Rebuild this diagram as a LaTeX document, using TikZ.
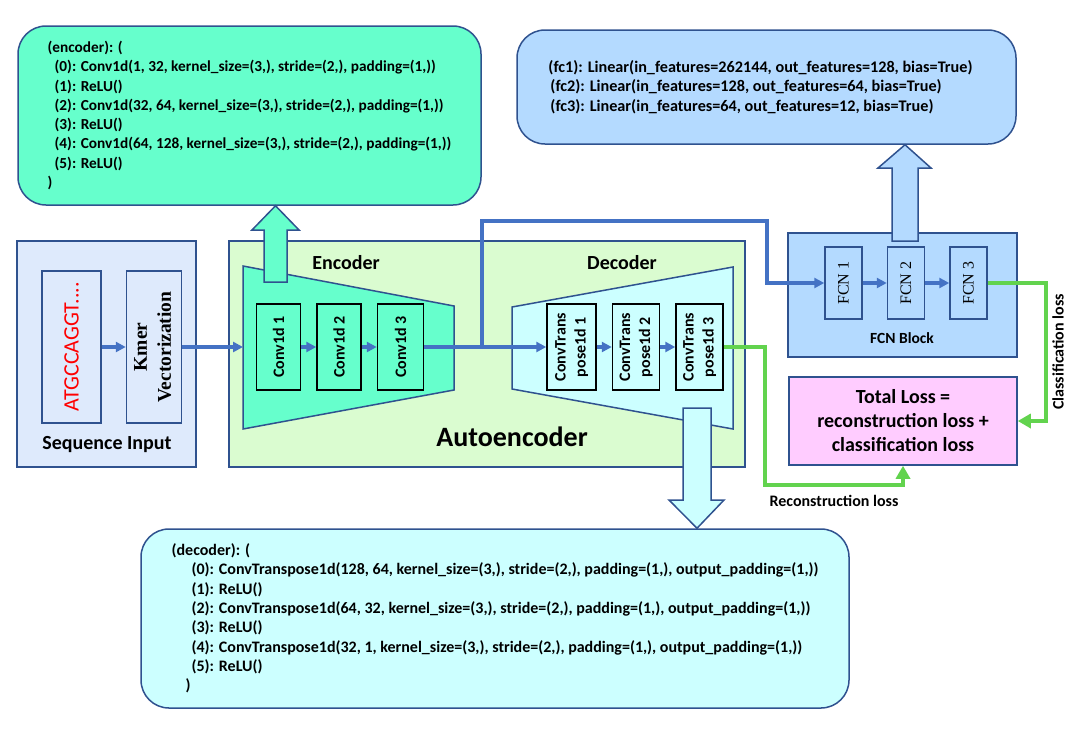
\documentclass[tikz,border=0pt]{standalone}
\usepackage{fontspec}
\setmainfont{Carlito}
\newfontfamily\timesfont{Liberation Serif}
\usetikzlibrary{positioning,arrows.meta}

\definecolor{edgeblue}{HTML}{2F528F}
\definecolor{lineblue}{HTML}{4472C4}
\definecolor{lossgreen}{HTML}{62D34E}
\definecolor{encgreen}{HTML}{66FFCC}
\definecolor{aebg}{HTML}{DAFCD0}
\definecolor{seqbg}{HTML}{DEEAFC}
\definecolor{fcnblue}{HTML}{B4DAFF}
\definecolor{deccyan}{HTML}{CCFFFF}
\definecolor{losspink}{HTML}{FFCCFF}

\begin{document}
\begin{tikzpicture}[x=1pt,y=-1pt,font=\bfseries,
  panel/.style={draw=edgeblue,line width=1.5pt,inner sep=0pt},
  codebox/.style={panel,rounded corners=28pt,align=left,font=\fontsize{16}{19.3}\selectfont\bfseries},
  layer/.style={draw=black,line width=1.5pt,inner sep=0pt,minimum height=86pt,font=\fontsize{16}{20}\selectfont\bfseries},
  fcn/.style={draw=edgeblue,line width=1.5pt,fill=fcnblue,inner sep=0pt,minimum width=37pt,minimum height=72pt,font=\fontsize{16}{20}\selectfont\timesfont},
  flow/.style={draw=lineblue,line width=3.5pt,-{Triangle[length=10pt,width=10pt]}},
  lossflow/.style={draw=lossgreen,line width=3.5pt,-{Triangle[length=13pt,width=14pt]}},
  fatarrow/.style={draw=edgeblue,line width=1.5pt},
  caption/.style={font=\fontsize{20}{24}\selectfont\bfseries},
  small/.style={font=\fontsize{16}{19}\selectfont\bfseries}]
  \useasboundingbox (0,0) rectangle (1086,734);

  % sequence input
  \node[panel,fill=seqbg,minimum width=179pt,minimum height=226pt] (seqpanel) at (106.5,354) {};
  \node[draw=edgeblue,line width=1.5pt,inner sep=0pt,minimum width=59pt,minimum height=152pt,
    text=red,font=\fontsize{22}{26}\selectfont] (dna) at (71.5,347) {\rotatebox{90}{ATGCCAGGT....}};
  \node[draw=edgeblue,line width=1.5pt,inner sep=0pt,minimum width=55pt,minimum height=152pt,
    font=\fontsize{19.5}{24}\selectfont\timesfont\bfseries,right=24pt of dna] (kmer)
    {\rotatebox{90}{\begin{tabular}{@{}c@{}}Kmer\\Vectorization\end{tabular}}};
  \node[caption] (seqlabel) at (107,445) {Sequence Input};

  % autoencoder
  \node[panel,fill=aebg,minimum width=516pt,minimum height=226pt] (aepanel) at (487,354) {};
  \draw[panel,fill=encgreen] (243,266) -- (454,306) -- (454,390) -- (243,429) -- cycle;
  \draw[panel,fill=deccyan] (512,307) -- (733,267) -- (733,429) -- (512,389) -- cycle;
  \node[caption] (enclabel) at (346,263) {Encoder};
  \node[caption] (declabel) at (622,263) {Decoder};
  \node[font=\fontsize{28}{32}\selectfont\bfseries] (aelabel) at (512,437) {Autoencoder};
  \node[layer,fill=encgreen,minimum width=44pt] (conv1) at (278.5,347) {\rotatebox{90}{Conv1d 1}};
  \node[layer,fill=encgreen,minimum width=44pt,right=15pt of conv1] (conv2) {\rotatebox{90}{Conv1d 2}};
  \node[layer,fill=encgreen,minimum width=46pt,right=15pt of conv2] (conv3) {\rotatebox{90}{Conv1d 3}};
  \node[layer,fill=deccyan,minimum width=49pt] (dec1) at (571.5,347)
    {\rotatebox{90}{\begin{tabular}{@{}c@{}}ConvTrans\\pose1d 1\end{tabular}}};
  \node[layer,fill=deccyan,minimum width=47pt,right=15pt of dec1] (dec2)
    {\rotatebox{90}{\begin{tabular}{@{}c@{}}ConvTrans\\pose1d 2\end{tabular}}};
  \node[layer,fill=deccyan,minimum width=47pt,right=15pt of dec2] (dec3)
    {\rotatebox{90}{\begin{tabular}{@{}c@{}}ConvTrans\\pose1d 3\end{tabular}}};
  \coordinate (encin) at (243,347);
  \coordinate (split) at (482,347);

  % fcn block and loss
  \node[panel,fill=fcnblue,minimum width=229pt,minimum height=124pt] (fcnpanel) at (902.5,295) {};
  \node[fcn] (fcn1) at (843.5,283) {\rotatebox{90}{FCN 1}};
  \node[fcn,right=24pt of fcn1] (fcn2) {\rotatebox{90}{FCN 2}};
  \node[fcn,right=24pt of fcn2] (fcn3) {\rotatebox{90}{FCN 3}};
  \node[font=\fontsize{15.5}{18}\selectfont\bfseries] (fcnlabel) at (902,338) {FCN Block};
  \node[panel,fill=losspink,minimum width=228pt,minimum height=88pt,align=center,
    font=\fontsize{20}{24}\selectfont\bfseries] (loss) at (903,421)
    {Total Loss =\\reconstruction loss +\\classification loss};

  % layer printouts
  \node[codebox,fill=encgreen,minimum width=463pt,minimum height=179pt,
    font=\fontsize{15.3}{19.3}\selectfont\bfseries] (enccode) at (249.5,115.5)
    {(encoder): (\\
     \hspace*{7pt}(0): Conv1d(1, 32, kernel\_size=(3,), stride=(2,), padding=(1,))\\
     \hspace*{7pt}(1): ReLU()\\
     \hspace*{7pt}(2): Conv1d(32, 64, kernel\_size=(3,), stride=(2,), padding=(1,))\\
     \hspace*{7pt}(3): ReLU()\\
     \hspace*{7pt}(4): Conv1d(64, 128, kernel\_size=(3,), stride=(2,), padding=(1,))\\
     \hspace*{7pt}(5): ReLU()\\
     )};
  \node[codebox,fill=fcnblue,minimum width=499pt,minimum height=114pt,
    font=\fontsize{16.2}{19.3}\selectfont\bfseries] (fccode) at (766.5,87)
    {(fc1): Linear(in\_features=262144, out\_features=128, bias=True)\hspace*{12pt}\\
     \hspace*{2pt}(fc2): Linear(in\_features=128, out\_features=64, bias=True)\\
     \hspace*{2pt}(fc3): Linear(in\_features=64, out\_features=12, bias=True)};
  \node[codebox,fill=deccyan,minimum width=708pt,minimum height=179pt] (deccode) at (495,618.5)
    {(decoder): (\\
     \hspace*{20pt}(0): ConvTranspose1d(128, 64, kernel\_size=(3,), stride=(2,), padding=(1,), output\_padding=(1,))\\
     \hspace*{20pt}(1): ReLU()\\
     \hspace*{20pt}(2): ConvTranspose1d(64, 32, kernel\_size=(3,), stride=(2,), padding=(1,), output\_padding=(1,))\\
     \hspace*{20pt}(3): ReLU()\\
     \hspace*{20pt}(4): ConvTranspose1d(32, 1, kernel\_size=(3,), stride=(2,), padding=(1,), output\_padding=(1,))\\
     \hspace*{20pt}(5): ReLU()\\
     \hspace*{14pt})};

  % block arrows to the printouts
  \draw[fatarrow,fill=encgreen] (264,282) -- (264,230) -- (252,230) -- (enccode.south -| 275.5,0)
    -- (299,230) -- (287,230) -- (287,282) -- cycle;
  \draw[fatarrow,fill=fcnblue] (892,241) -- (892,168) -- (878,168) -- (fccode.south -| 905,0)
    -- (931,168) -- (918,168) -- (918,241) -- cycle;
  \draw[fatarrow,fill=deccyan] (683,408) -- (683,500) -- (669,500) -- (deccode.north -| 697,0)
    -- (724,500) -- (711,500) -- (711,408) -- cycle;

  % data flow
  \draw[flow] (dna) -- (kmer);
  \draw[flow] (kmer.east |- encin) -- (encin);
  \draw[flow] (conv1) -- (conv2);
  \draw[flow] (conv2) -- (conv3);
  \draw[flow] (conv3.east) -- (dec1.west);
  \draw[flow] (split) -- (482,221) -- (767,221) |- (fcn1.west);
  \draw[flow] (fcn1) -- (fcn2);
  \draw[flow] (fcn2) -- (fcn3);
  \draw[flow] (dec1) -- (dec2);
  \draw[flow] (dec2) -- (dec3);

  % losses
  \draw[lossflow] (fcn3.east) -- ++(58,0) |- (loss.east);
  \draw[lossflow] (dec3.east) -- (765,347) |- (903,485) -- (loss.south);
  \node[small] (reclabel) at (834,501) {Reconstruction loss};
  \node[small] (clslabel) at (1058,352) {\rotatebox{90}{Classification loss}};
\end{tikzpicture}
\end{document}
